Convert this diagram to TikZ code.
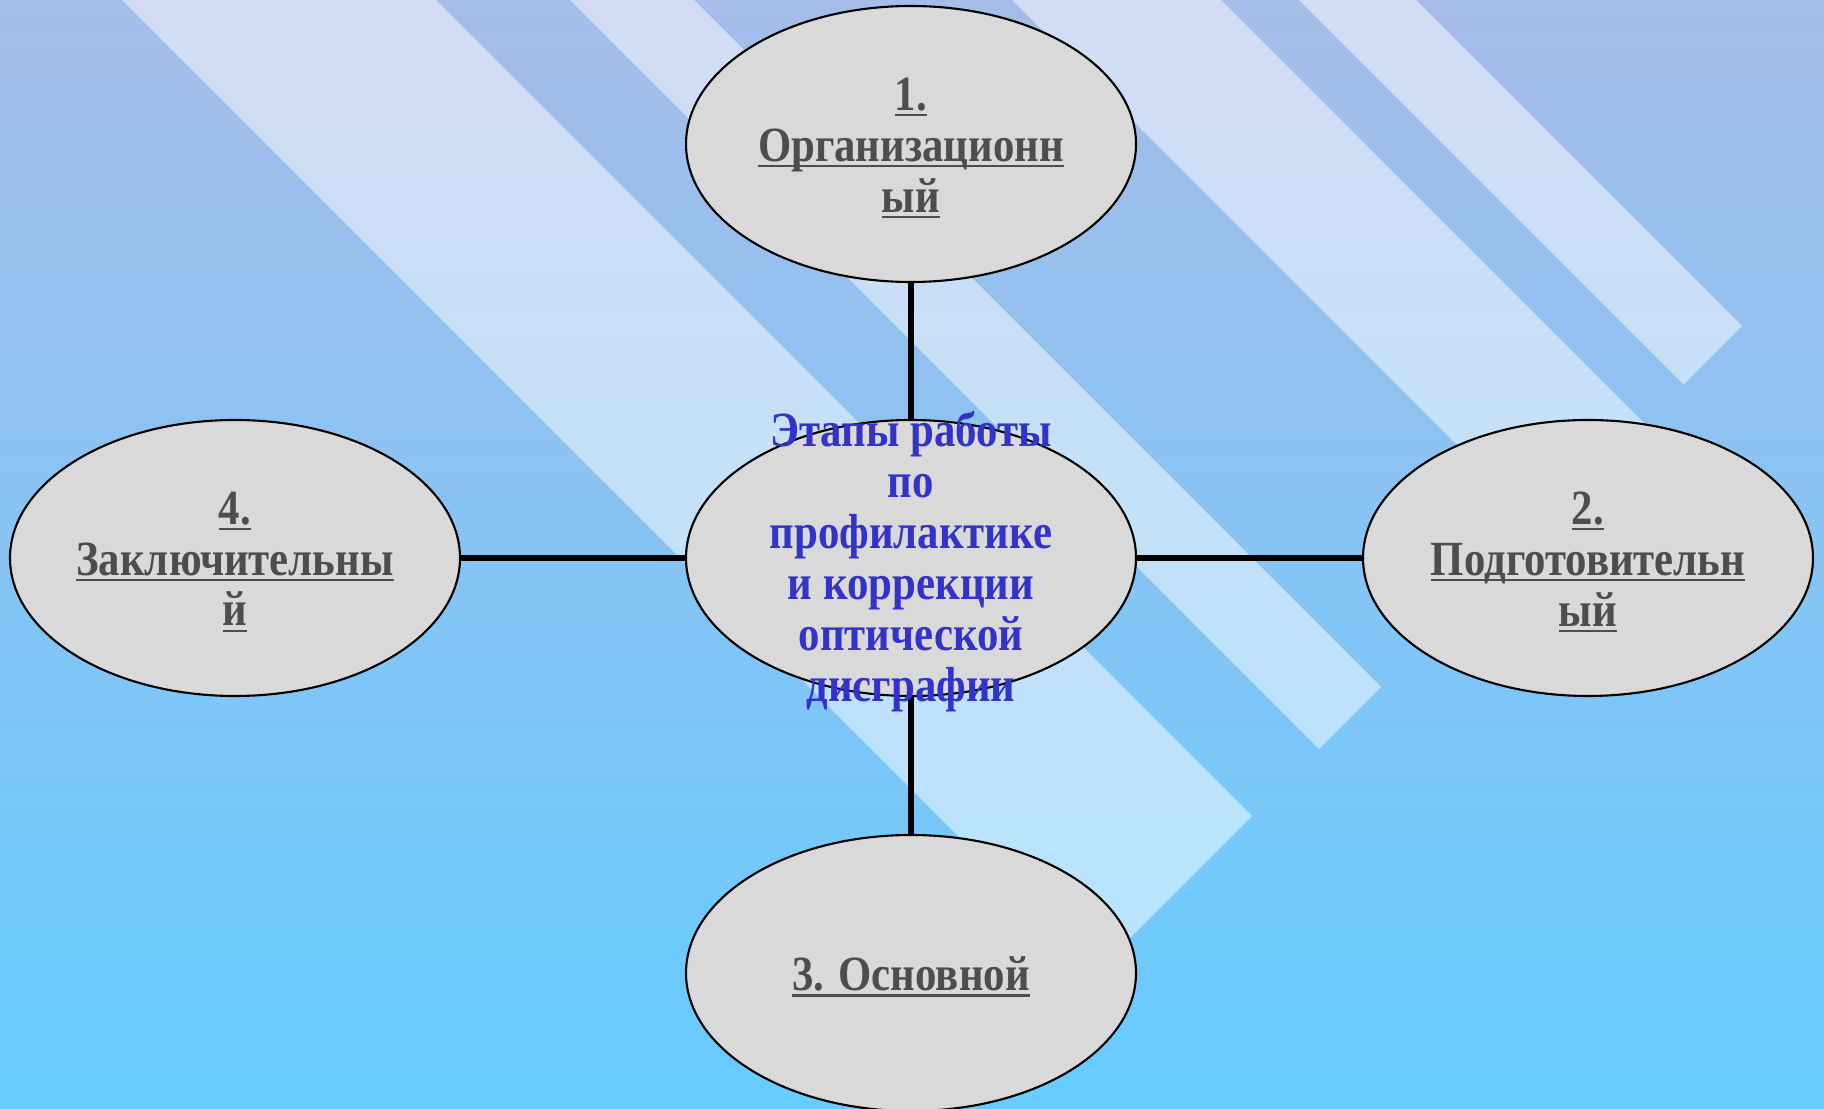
\documentclass[tikz,border=0pt]{standalone}
\usepackage{xcolor}
\usepackage{fontspec}
\setmainfont{Liberation Serif}[FakeStretch=0.87]
\usepackage{tikz}
\usetikzlibrary{shapes,backgrounds}
\definecolor{bgtop}{HTML}{A6BCE9}
\definecolor{bgbot}{HTML}{66CCFF}
\definecolor{stagegrey}{HTML}{D9D9D9}
\definecolor{labelgrey}{HTML}{4D4D4D}
\definecolor{titleblue}{HTML}{3333CC}
\newcommand{\ulabel}[1]{\setbox0\hbox{#1}\rlap{\rule[-1.8pt]{\wd0}{0.75pt}}\box0}
\tikzset{
  stage/.style={ellipse, draw=black, line width=0.6pt, fill=stagegrey,
    minimum width=4.5cm, minimum height=2.76cm, inner sep=0pt},
  stagetext/.style={text=labelgrey, align=center, yshift=-0.04cm,
    font=\fontsize{14}{14.5}\selectfont\bfseries},
  titletext/.style={text=titleblue, align=center, yshift=-0.04cm,
    font=\fontsize{14}{14.5}\selectfont\bfseries},
  stripe/.style={fill=white, fill opacity=0.5},
  link/.style={line width=1.85pt}
}

\begin{document}
\begin{tikzpicture}
\useasboundingbox (0,0) rectangle (18.24,11.08);
\node[stage, label={[titletext]center:{Этапы работы\\по\\профилактике\\и коррекции\\оптической\\дисграфии}}] (ctr) at (9.11,5.50) {};
\node[stage, label={[stagetext]center:{\ulabel{1.}\\\ulabel{Организационн}\\\ulabel{ый}}}] (org) at (9.11,9.64) {};
\node[stage, label={[stagetext]center:{\ulabel{2.}\\\ulabel{Подготовительн}\\\ulabel{ый}}}] (prep) at (15.88,5.50) {};
\node[stage, label={[stagetext]center:{\ulabel{3. Основной}}}] (main) at (9.11,1.35) {};
\node[stage, label={[stagetext]center:{\ulabel{4.}\\\ulabel{Заключительны}\\\ulabel{й}}}] (fin) at (2.35,5.50) {};
\begin{scope}[on background layer]
\clip (0,0) rectangle (18.24,11.08);
\shade[top color=bgtop, bottom color=bgbot] (0,0) rectangle (18.24,11.08);
% light diagonal bands
\foreach \ka/\kb in {12.30/15.44, 16.78/18.02, 21.20/23.29, 24.07/25.24}
  \fill[stripe] ({\ka-11.28},11.28) -- ({\kb-11.28},11.28) -- ({(\kb+9.6)/2},{(\kb-9.6)/2}) -- ({(\ka+9.6)/2},{(\ka-9.6)/2}) -- cycle;
\draw[link] (org) -- (ctr);
\draw[link] (ctr) -- (prep);
\draw[link] (ctr) -- (main);
\draw[link] (fin) -- (ctr);
\end{scope}
\end{tikzpicture}
\end{document}
